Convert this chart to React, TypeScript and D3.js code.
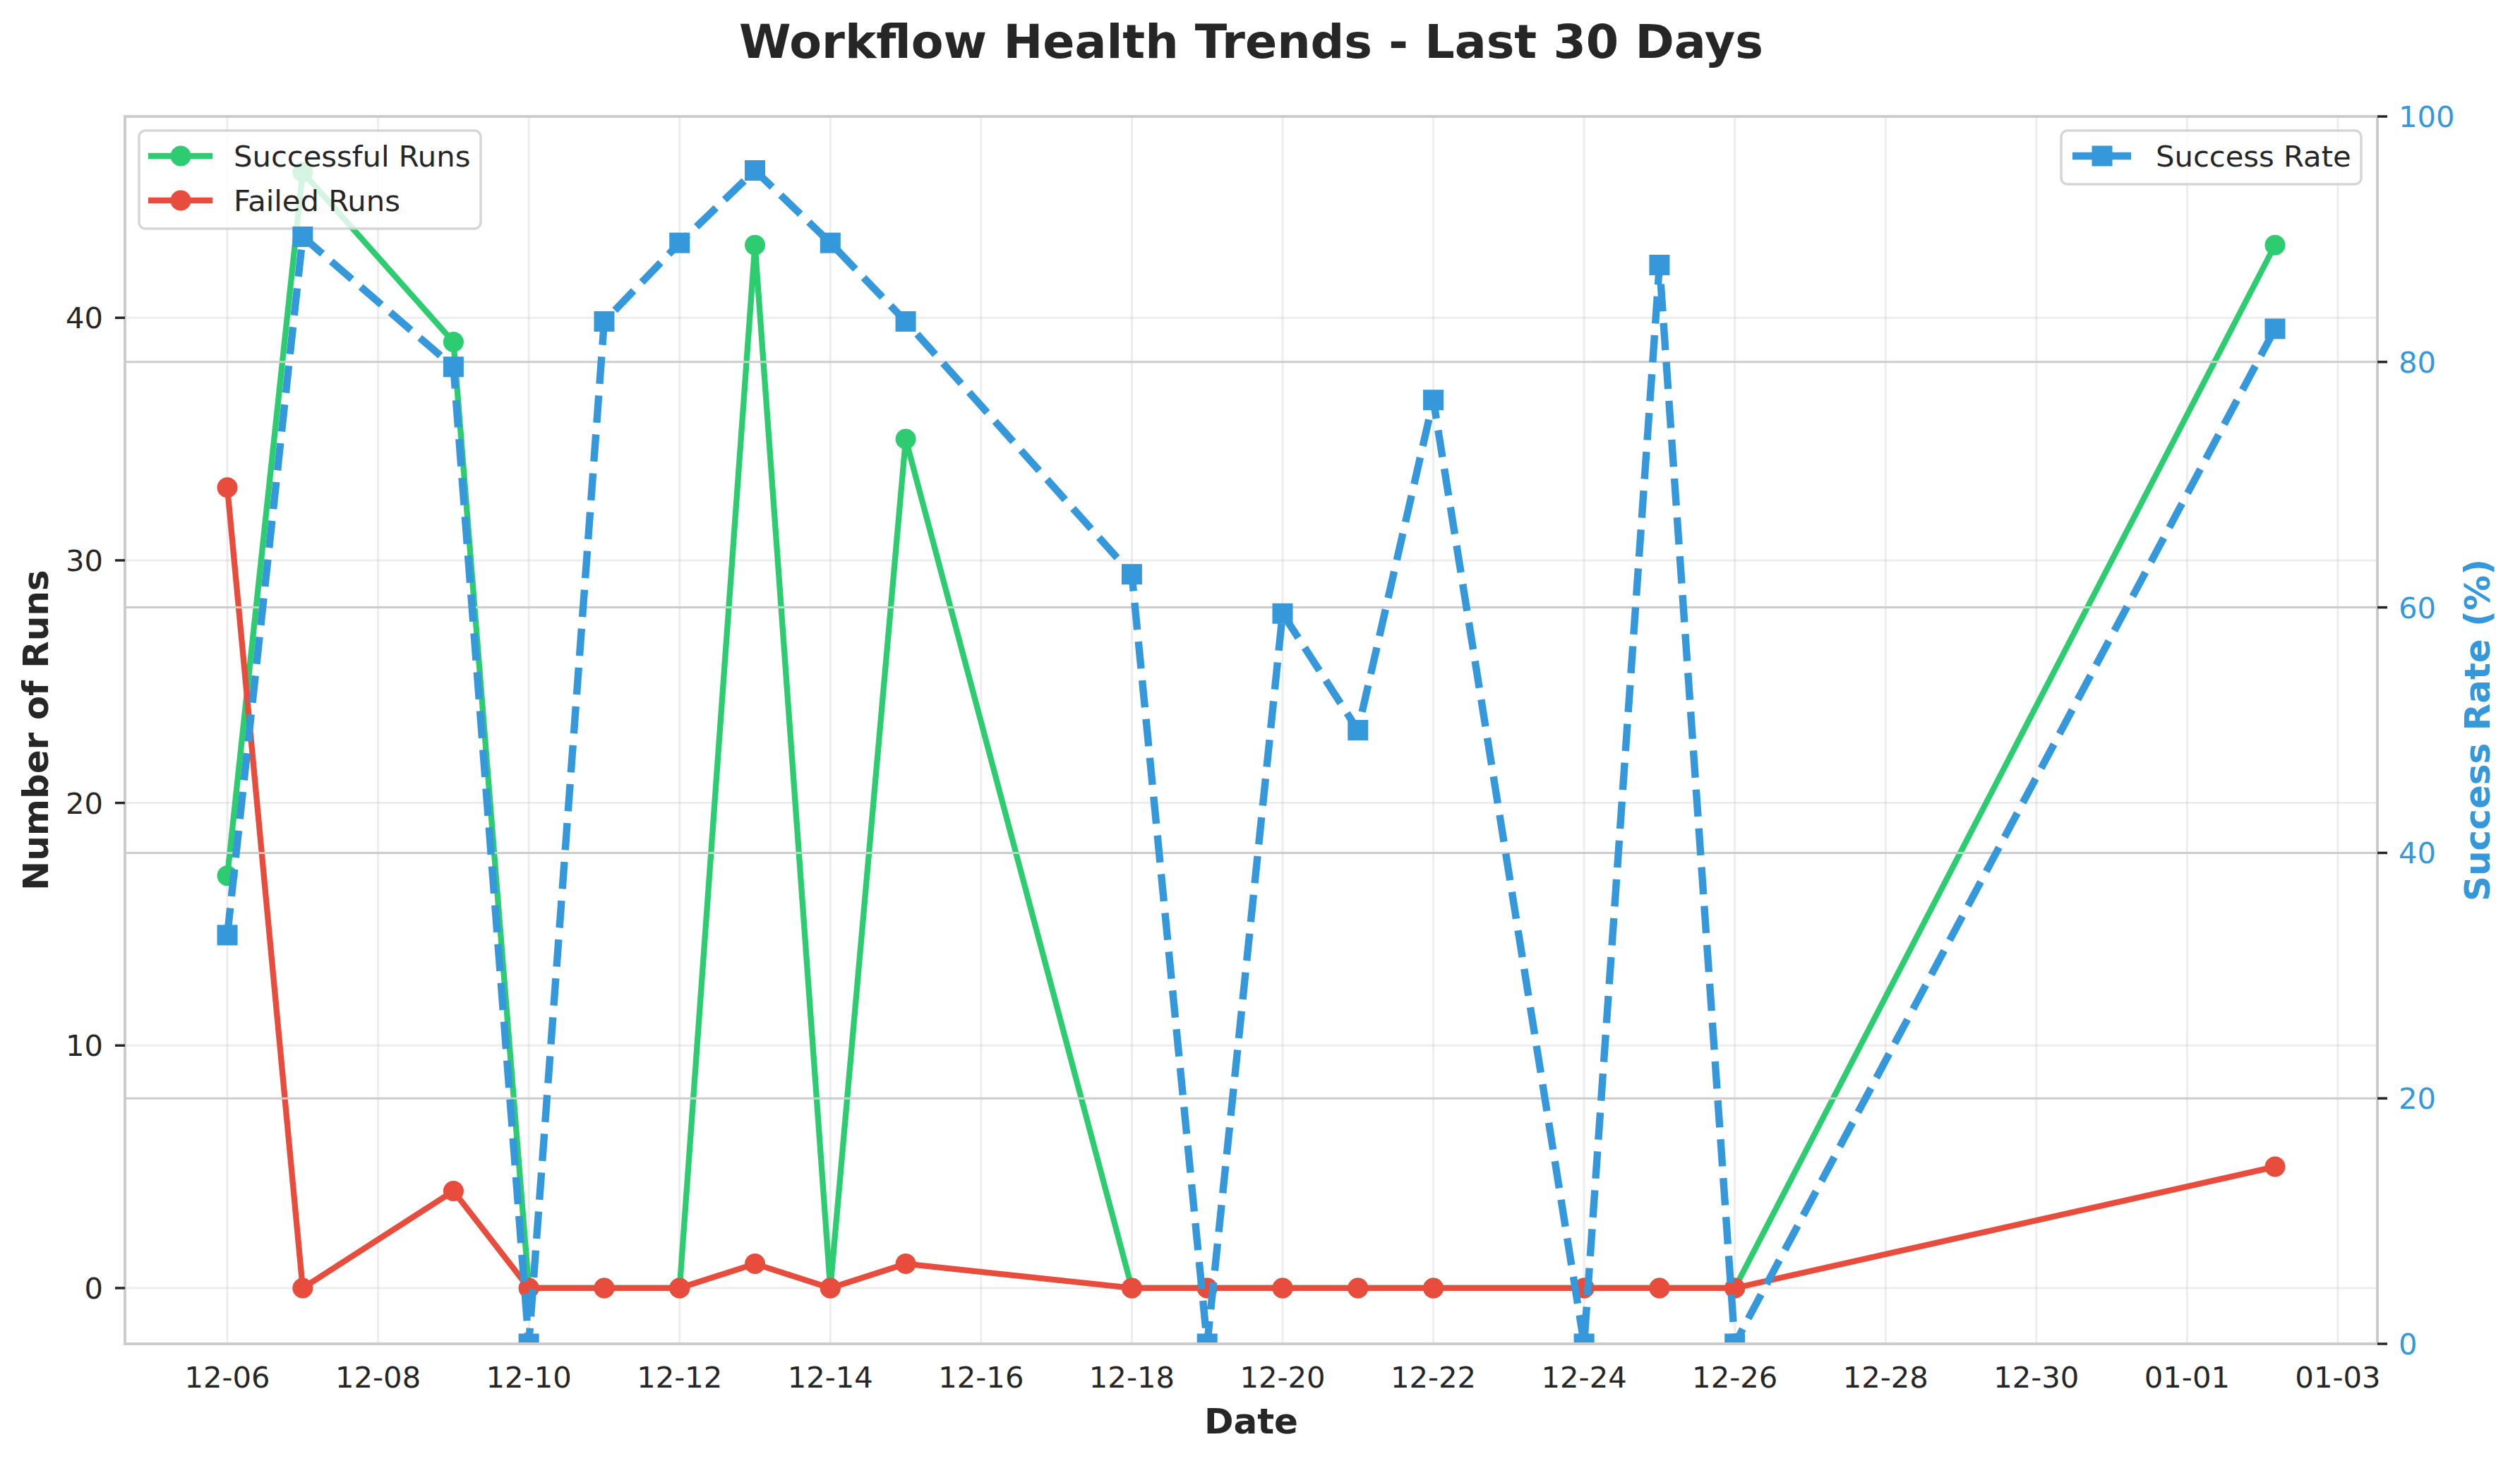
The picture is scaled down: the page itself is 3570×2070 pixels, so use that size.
import React from "react";
import * as d3 from "d3";

const dates = [
  "2024-12-06 00:00", "2024-12-07 00:00", "2024-12-09 00:00", "2024-12-10 00:00", "2024-12-11 00:00",
  "2024-12-12 00:00", "2024-12-13 00:00", "2024-12-14 00:00", "2024-12-15 00:00", "2024-12-18 00:00",
  "2024-12-19 00:00", "2024-12-20 00:00", "2024-12-21 00:00", "2024-12-22 00:00", "2024-12-24 00:00",
  "2024-12-25 00:00", "2024-12-26 00:00", "2025-01-02 04:00",
];
const successfulRuns = [17, 46, 39, 0, 0, 0, 43, 0, 35, 0, 0, 0, 0, 0, 0, 0, 0, 43];
const failedRuns = [33, 0, 4, 0, 0, 0, 1, 0, 1, 0, 0, 0, 0, 0, 0, 0, 0, 5];
const successRate = [33.3, 90.2, 79.6, 0, 83.3, 89.7, 95.6, 89.7, 83.3, 62.7, 0, 59.5, 50, 76.9, 0, 87.9, 0, 82.7];
const leftTicks = [0, 10, 20, 30, 40];
const rightTicks = [0, 20, 40, 60, 80, 100];

const W = 3570, H = 2070;
const L = 177, R = 3368, T = 165, B = 1904;
const FONT = "DejaVu Sans, Liberation Sans, sans-serif";
const GREEN = "#2ecc71", RED = "#e74c3c", BLUE = "#3498db", TXT = "#262626";

export default function App() {
  const parse = d3.timeParse("%Y-%m-%d %H:%M");
  const xs = dates.map((d) => parse(d) as Date);
  const [x0, x1] = d3.extent(xs) as [Date, Date];
  const span = +x1 - +x0;
  const x = d3.scaleTime().domain([new Date(+x0 - span * 0.05), new Date(+x1 + span * 0.05)]).range([L, R]);
  const runMax = d3.max([...successfulRuns, ...failedRuns]) as number;
  const yL = d3.scaleLinear().domain([-runMax * 0.05, runMax * 1.05]).range([B, T]);
  const yR = d3.scaleLinear().domain([0, 100]).range([B, T]);
  const xTicks = d3.timeDay.range(x0, new Date(+x.domain()[1] + 1), 2);
  const fmt = d3.timeFormat("%m-%d");

  const lineL = (vals: number[]) =>
    d3.line<number>().x((_, i) => x(xs[i])).y((v) => yL(v))(vals) as string;
  const lineR = d3.line<number>().x((_, i) => x(xs[i])).y((v) => yR(v))(successRate) as string;

  const lw = 8.3, blw = 10.4, mr = 14.5, sq = 29;

  return (
    <svg width={W} height={H} style={{ position: "absolute", left: 0, top: 0, background: "#fff" }} fontFamily={FONT}>
      <defs>
        <clipPath id="plot">
          <rect x={L} y={T} width={R - L} height={B - T} />
        </clipPath>
      </defs>
      <rect x={0} y={0} width={W} height={H} fill="#fff" />
      {/* ax1 grid */}
      <g stroke="#cccccc" strokeOpacity={0.35} strokeWidth={3}>
        {leftTicks.map((t) => (
          <line key={"gl" + t} x1={L} x2={R} y1={yL(t)} y2={yL(t)} />
        ))}
        {xTicks.map((t, i) => (
          <line key={"gx" + i} x1={x(t)} x2={x(t)} y1={T} y2={B} />
        ))}
      </g>
      {/* ax1 lines */}
      <g clipPath="url(#plot)">
        <path d={lineL(successfulRuns)} fill="none" stroke={GREEN} strokeWidth={lw} strokeLinejoin="round" />
        {successfulRuns.map((v, i) => (
          <circle key={"s" + i} cx={x(xs[i])} cy={yL(v)} r={mr} fill={GREEN} />
        ))}
        <path d={lineL(failedRuns)} fill="none" stroke={RED} strokeWidth={lw} strokeLinejoin="round" />
        {failedRuns.map((v, i) => (
          <circle key={"f" + i} cx={x(xs[i])} cy={yL(v)} r={mr} fill={RED} />
        ))}
      </g>
      {/* ax1 legend */}
      <g>
        <rect x={197} y={185} width={484} height={139} rx={9} fill="#fff" fillOpacity={0.8} stroke="#cccccc" strokeOpacity={0.8} strokeWidth={3.5} />
        <line x1={210} x2={301} y1={221} y2={221} stroke={GREEN} strokeWidth={lw} />
        <circle cx={256} cy={221} r={mr} fill={GREEN} />
        <text x={331} y={221} dy="0.36em" fontSize={41.7} fill={TXT}>Successful Runs</text>
        <line x1={210} x2={301} y1={284} y2={284} stroke={RED} strokeWidth={lw} />
        <circle cx={256} cy={284} r={mr} fill={RED} />
        <text x={331} y={284} dy="0.36em" fontSize={41.7} fill={TXT}>Failed Runs</text>
      </g>
      {/* ax2 grid */}
      <g stroke="#cccccc" strokeWidth={3}>
        {rightTicks.map((t) => (
          <line key={"gr" + t} x1={L} x2={R} y1={yR(t)} y2={yR(t)} />
        ))}
      </g>
      {/* ax2 line */}
      <g clipPath="url(#plot)">
        <path d={lineR} fill="none" stroke={BLUE} strokeWidth={blw} strokeDasharray="38.5 16.7" />
        {successRate.map((v, i) => (
          <rect key={"r" + i} x={x(xs[i]) - sq / 2} y={yR(v) - sq / 2} width={sq} height={sq} fill={BLUE} />
        ))}
      </g>
      {/* spines */}
      <rect x={L} y={T} width={R - L} height={B - T} fill="none" stroke="#cccccc" strokeWidth={4} />
      {/* ax2 legend */}
      <g>
        <rect x={2920} y={185} width={425} height={76} rx={9} fill="#fff" fillOpacity={0.8} stroke="#cccccc" strokeOpacity={0.8} strokeWidth={3.5} />
        <line x1={2936} x2={3019} y1={221} y2={221} stroke={BLUE} strokeWidth={blw} />
        <rect x={2978 - sq / 2} y={221 - sq / 2} width={sq} height={sq} fill={BLUE} />
        <text x={3054} y={221} dy="0.36em" fontSize={41.7} fill={TXT}>Success Rate</text>
      </g>
      {/* left ticks */}
      <g>
        {leftTicks.map((t) => (
          <g key={"lt" + t}>
            <line x1={L - 14} x2={L} y1={yL(t)} y2={yL(t)} stroke={TXT} strokeWidth={3.5} />
            <text x={L - 31} y={yL(t)} dy="0.36em" textAnchor="end" fontSize={41.7} fill={TXT}>{t}</text>
          </g>
        ))}
      </g>
      {/* right ticks */}
      <g>
        {rightTicks.map((t) => (
          <g key={"rt" + t}>
            <line x1={R} x2={R + 14} y1={yR(t)} y2={yR(t)} stroke={TXT} strokeWidth={3.5} />
            <text x={R + 30} y={yR(t)} dy="0.36em" textAnchor="start" fontSize={41.7} fill={BLUE}>{t}</text>
          </g>
        ))}
      </g>
      {/* x ticks */}
      <g>
        {xTicks.map((t, i) => (
          <text key={"xt" + i} x={x(t)} y={1966} textAnchor="middle" fontSize={41.7} fill={TXT}>{fmt(t)}</text>
        ))}
      </g>
      {/* labels */}
      <text x={(L + R) / 2} y={82} textAnchor="middle" fontSize={66.7} fontWeight="bold" fill={TXT}>
        Workflow Health Trends - Last 30 Days
      </text>
      <text x={(L + R) / 2} y={2031} textAnchor="middle" fontSize={50} fontWeight="bold" fill={TXT}>Date</text>
      <text transform={`translate(68, ${(T + B) / 2}) rotate(-90)`} textAnchor="middle" fontSize={50} fontWeight="bold" fill={TXT}>
        Number of Runs
      </text>
      <text transform={`translate(3527, ${(T + B) / 2}) rotate(-90)`} textAnchor="middle" fontSize={50} fontWeight="bold" fill={BLUE}>
        Success Rate (%)
      </text>
    </svg>
  );
}
